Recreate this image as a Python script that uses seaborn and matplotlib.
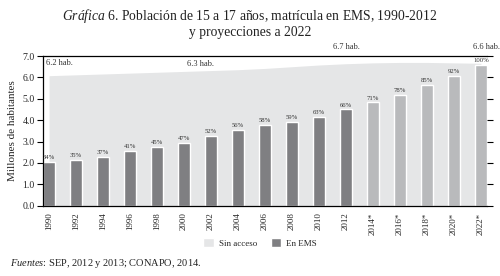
import numpy as np
import pandas as pd
import matplotlib
matplotlib.use("Agg")
import matplotlib.pyplot as plt
import seaborn as sns
from matplotlib.patches import Patch

# Data (millions of people aged 15-17)
years = ["1990", "1992", "1994", "1996", "1998", "2000", "2002", "2004", "2006",
         "2008", "2010", "2012", "2014*", "2016*", "2018*", "2020*", "2022*"]
en_ems = [2.05, 2.13, 2.27, 2.56, 2.75, 2.94, 3.27, 3.55, 3.79,
          3.93, 4.17, 4.50, 4.83, 5.17, 5.64, 6.07, 6.60]
poblacion = [6.08, 6.12, 6.16, 6.20, 6.24, 6.28, 6.32, 6.36, 6.42,
             6.50, 6.58, 6.64, 6.68, 6.70, 6.70, 6.68, 6.66]
pct_labels = ["34%", "35%", "37%", "41%", "45%", "47%", "52%", "56%", "58%",
              "59%", "63%", "66%", "71%", "78%", "85%", "92%", "100%"]
periodo = ["Observado"] * 12 + ["Proyección"] * 5
hab_labels = [(0.4, 6.5, "6.2 hab."), (5.6, 6.45, "6.3 hab."),
              (11.0, 7.25, "6.7 hab."), (16.2, 7.25, "6.6 hab.")]

sns.set_theme(style="white")
plt.rcParams["font.family"] = ["Liberation Serif", "DejaVu Serif"]
plt.rcParams["mathtext.fontset"] = "custom"
plt.rcParams["mathtext.rm"] = "Liberation Serif"
plt.rcParams["mathtext.it"] = "Liberation Serif:italic"

df = pd.DataFrame({"anio": years, "ems": en_ems, "periodo": periodo})

fig = plt.figure(figsize=(5, 2.76), dpi=100)
ax = fig.add_axes([0.086, 0.255, 0.888, 0.542])

bw = 0.45
x = np.arange(len(years))
ax.fill_between(x, 0, poblacion, color="#e5e6e7", lw=0, zorder=0)
sns.barplot(data=df, x="anio", y="ems", hue="periodo",
            palette={"Observado": "#7f7f82", "Proyección": "#b9babc"},
            dodge=False, width=bw, saturation=1, legend=False, ax=ax, zorder=2)

for i, (v, t) in enumerate(zip(en_ems, pct_labels)):
    ax.text(i, v + 0.08, t, ha="center", va="bottom", fontsize=4.8, color="#333333")

for xp, yp, t in hab_labels:
    ax.text(xp, yp, t, ha="center", va="bottom", fontsize=6, color="#333333", clip_on=False)

ax.set_xlim(-bw / 2, len(years) - 1 + bw / 2)
ax.set_ylim(0, 7)
ax.set_yticks(np.arange(0, 8, 1))
ax.set_yticklabels([f"{v:.1f}" for v in range(8)], fontsize=7)
ax.set_xticks(x)
ax.set_xticklabels(years, rotation=90, fontsize=6.5)
ax.set_xticks(np.concatenate([x - bw / 2, x + bw / 2]), minor=True)
ax.tick_params(axis="x", which="major", length=0, pad=5)
ax.tick_params(axis="x", which="minor", length=4, width=0.8, direction="out", color="black")
ax.tick_params(axis="y", which="major", length=4, width=0.8, direction="out", color="black",
               right=True, left=True, pad=2)
ax.set_xlabel("")
ax.set_ylabel("Millones de habitantes", fontsize=8, labelpad=4)

for side in ["left", "top", "bottom"]:
    ax.spines[side].set_color("black")
    ax.spines[side].set_linewidth(0.9)
ax.spines["right"].set_visible(False)

handles = [Patch(facecolor="#e5e6e7", label="Sin acceso"),
           Patch(facecolor="#7f7f82", label="En EMS")]
fig.legend(handles=handles, loc="center", bbox_to_anchor=(0.52, 0.12), ncol=2,
           frameon=False, fontsize=6.5, handlelength=1.2, handleheight=1.2,
           columnspacing=1.5, handletextpad=0.5)

fig.text(0.5, 0.975, r"$\it{Gráfica}$ 6. Población de 15 a 17 años, matrícula en EMS, 1990-2012",
         ha="center", va="top", fontsize=9.8, color="#222222")
fig.text(0.5, 0.905, "y proyecciones a 2022", ha="center", va="top", fontsize=9.8, color="#222222")
fig.text(0.02, 0.02, r"$\it{Fuentes}$: SEP, 2012 y 2013; CONAPO, 2014.",
         ha="left", va="bottom", fontsize=7.5, color="#222222")

fig.savefig("out.png", dpi=100)
